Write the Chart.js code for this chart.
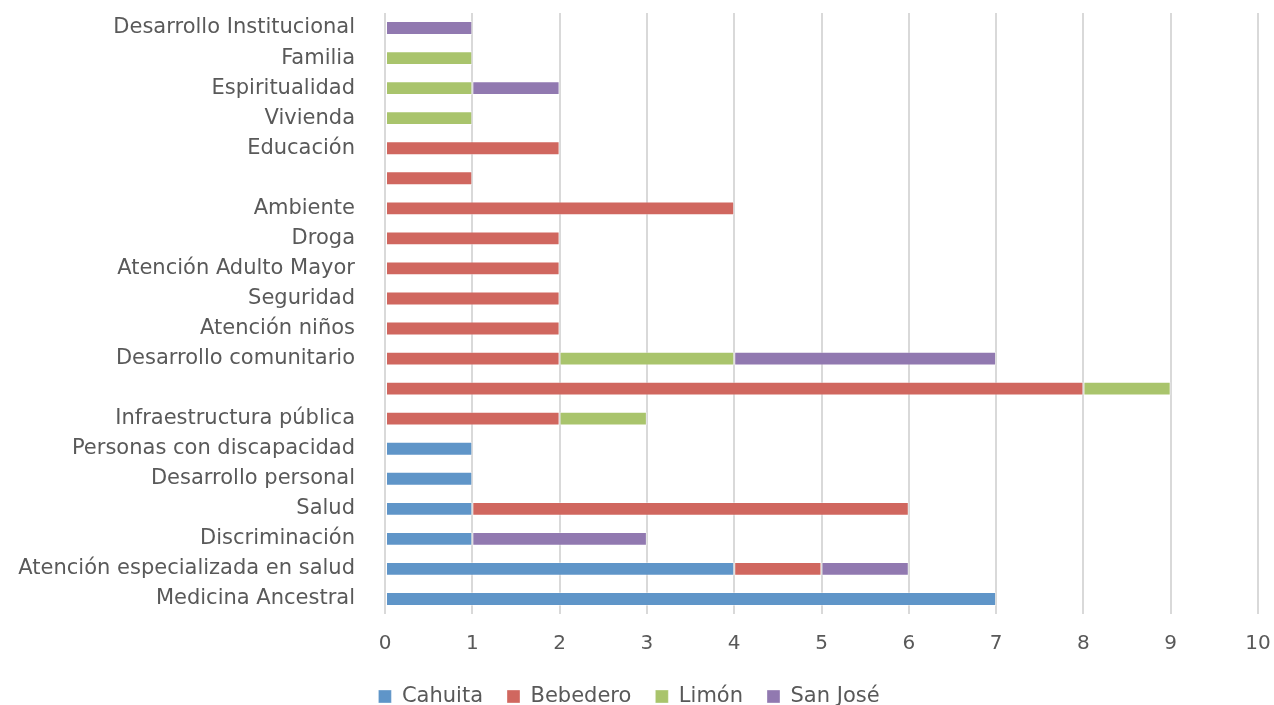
<!DOCTYPE html>
<html>
<head>
<meta charset="utf-8">
<script src="https://cdn.jsdelivr.net/npm/chart.js@4"></script>
<style>
  html, body { margin: 0; padding: 0; background: #fff; }
  #wrap { width: 1274px; height: 705px; }
</style>
</head>
<body>
<div id="wrap"><canvas id="temas"></canvas></div>
<script>
// categorías de arriba hacia abajo
const temas = [
  'Desarrollo Institucional', 'Familia', 'Espiritualidad', 'Vivienda', 'Educación', '',
  'Ambiente', 'Droga', 'Atención Adulto Mayor', 'Seguridad', 'Atención niños',
  'Desarrollo comunitario', '', 'Infraestructura pública', 'Personas con discapacidad',
  'Desarrollo personal', 'Salud', 'Discriminación', 'Atención especializada en salud',
  'Medicina Ancestral'
];

const cahuita  = [0, 0, 0, 0, 0, 0, 0, 0, 0, 0, 0, 0, 0, 0, 1, 1, 1, 1, 4, 7];
const bebedero = [0, 0, 0, 0, 2, 1, 4, 2, 2, 2, 2, 2, 8, 2, 0, 0, 5, 0, 1, 0];
const limon    = [0, 1, 1, 1, 0, 0, 0, 0, 0, 0, 0, 2, 1, 1, 0, 0, 0, 0, 0, 0];
const sanJose  = [1, 0, 1, 0, 0, 0, 0, 0, 0, 0, 0, 3, 0, 0, 0, 0, 0, 2, 1, 0];

const fuente = "'DejaVu Sans', sans-serif";
const gris = '#595959';

function serie(label, data, color) {
  return {
    label,
    data,
    backgroundColor: color,
    borderColor: 'rgba(255,255,255,0.35)',
    borderWidth: 1,
    borderSkipped: false,
    barPercentage: 0.92,
    categoryPercentage: 0.5
  };
}

new Chart(document.getElementById('temas'), {
  type: 'bar',
  data: {
    labels: temas,
    datasets: [
      serie('Cahuita', cahuita, '#5f95c8'),
      serie('Bebedero', bebedero, '#d0675f'),
      serie('Limón', limon, '#a9c46c'),
      serie('San José', sanJose, '#9179b0')
    ]
  },
  options: {
    indexAxis: 'y',
    responsive: true,
    maintainAspectRatio: false,
    animation: false,
    layout: { padding: { top: 13, right: 16, left: 0, bottom: -12 } },
    scales: {
      x: {
        stacked: true,
        min: 0,
        max: 10,
        afterFit: s => {
          s.height = 48;
          s.paddingLeft = 0;
          s.paddingRight = 0;
        },
        ticks: { stepSize: 1, color: gris, padding: 18, font: { family: fuente, size: 20 } },
        grid: { color: '#d9d9d9', lineWidth: 2, drawTicks: false },
        border: { display: false }
      },
      y: {
        stacked: true,
        afterFit: s => {
          s.width = 385;
          s.paddingTop = 0;
          s.paddingBottom = 0;
        },
        ticks: { color: gris, padding: 22, autoSkip: false, font: { family: fuente, size: 21 } },
        grid: { display: false },
        border: { display: false }
      }
    },
    plugins: {
      legend: {
        position: 'bottom',
        labels: {
          color: gris,
          boxWidth: 13,
          boxHeight: 13,
          padding: 24,
          font: { family: fuente, size: 21 }
        }
      },
      tooltip: { enabled: false }
    }
  }
});
</script>
</body>
</html>
